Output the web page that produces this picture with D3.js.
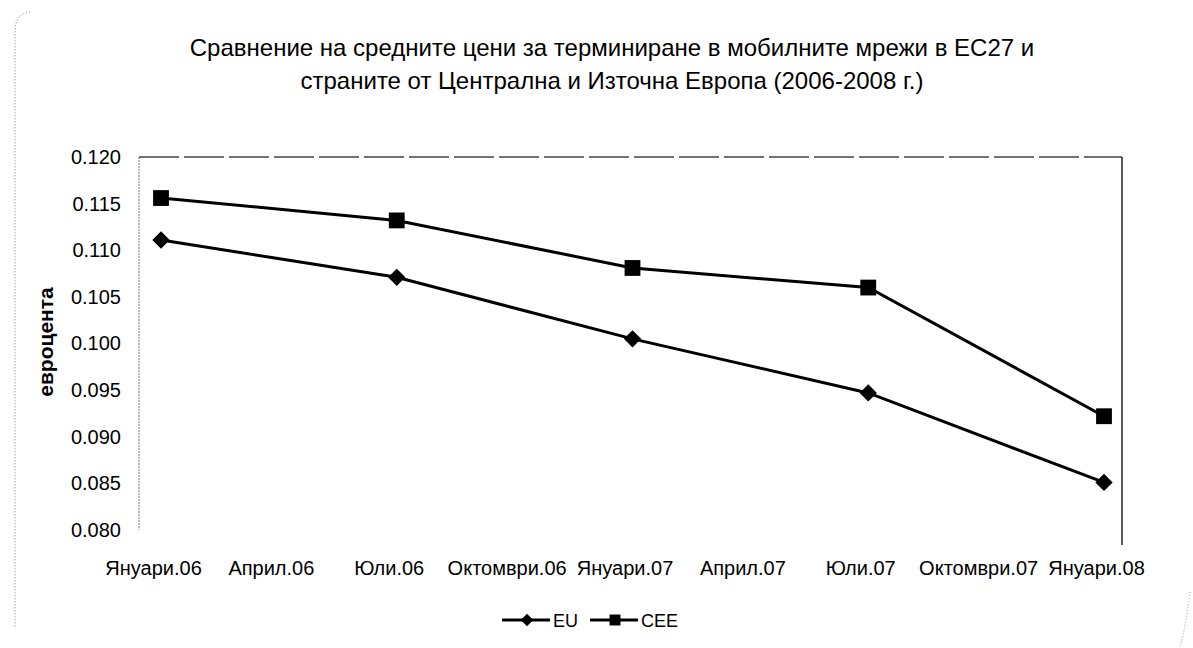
<!DOCTYPE html>
<html>
<head>
<meta charset="utf-8">
<script src="https://cdn.jsdelivr.net/npm/d3@7"></script>
<style>
  html, body { margin: 0; padding: 0; background: #fff; }
  svg { display: block; font-family: "Liberation Sans", Arial, sans-serif; }
</style>
</head>
<body>
<svg id="chart" width="1193" height="648"></svg>
<script>
// ---- data ----
const titleLines = [
  "Сравнение на средните цени за терминиране в мобилните мрежи в  ЕС27 и",
  "страните от Централна и Източна Европа  (2006-2008 г.)"
];
const yAxisTitle = "евроцента";
const tickLabels = ["Януари.06", "Април.06", "Юли.06", "Октомври.06", "Януари.07",
                    "Април.07", "Юли.07", "Октомври.07", "Януари.08"];
const categories = ["Януари.06", "Юли.06", "Януари.07", "Юли.07", "Януари.08"];
const euValues  = [0.1111, 0.1071, 0.1005, 0.0947, 0.0851];
const ceeValues = [0.1156, 0.1132, 0.1081, 0.1060, 0.0922];
const yTicks = [0.080, 0.085, 0.090, 0.095, 0.100, 0.105, 0.110, 0.115, 0.120];
const seriesNames = ["EU", "CEE"];

// ---- layout ----
const svg = d3.select("#chart");
const pLeft = 139, pRight = 1122, pTop = 157, pBottom = 530;

const x = d3.scalePoint().domain(tickLabels).range([161, 1104]);
const y = d3.scaleLinear().domain([0.080, 0.120]).range([pBottom, pTop]);

// outer chart border (faint, dotted)
svg.append("path")
  .attr("d", `M30,12 Q15,14 15,32 L15,628`)
  .attr("fill", "none").attr("stroke", "#777").attr("stroke-width", 1)
  .attr("stroke-dasharray", "1,2");
svg.append("path")
  .attr("d", `M1190,592 Q1186,625 1180,648`)
  .attr("fill", "none").attr("stroke", "#999").attr("stroke-width", 1)
  .attr("stroke-dasharray", "1,2");

// title
svg.append("g").selectAll("text").data(titleLines).join("text")
  .attr("x", 612).attr("y", (d, i) => 56 + i * 33)
  .attr("text-anchor", "middle")
  .attr("font-size", 24)
  .attr("fill", "#000")
  .text(d => d);

// plot frame: left dotted, top dashed, right solid
svg.append("line").attr("x1", pLeft).attr("x2", pLeft).attr("y1", pTop).attr("y2", pBottom)
  .attr("stroke", "#777").attr("stroke-width", 1).attr("stroke-dasharray", "2,1");
svg.append("line").attr("x1", pLeft).attr("x2", pRight).attr("y1", pTop).attr("y2", pTop)
  .attr("stroke", "#444").attr("stroke-width", 1.5).attr("stroke-dasharray", "40,5");
svg.append("line").attr("x1", pRight).attr("x2", pRight).attr("y1", pTop).attr("y2", pBottom + 15)
  .attr("stroke", "#222").attr("stroke-width", 1.5);

// y axis tick labels
const yAxis = d3.axisLeft(y).tickValues(yTicks).tickFormat(d3.format(".3f")).tickSize(0).tickPadding(0);
const gy = svg.append("g").attr("transform", `translate(121,0)`).call(yAxis);
gy.select(".domain").remove();
gy.selectAll("text").attr("font-size", 20).attr("font-family", "Liberation Sans, Arial, sans-serif")
  .attr("fill", "#000");

// y axis title
svg.append("text")
  .attr("transform", `translate(53,342) rotate(-90)`)
  .attr("text-anchor", "middle")
  .attr("font-size", 21).attr("font-weight", "bold")
  .text(yAxisTitle);

// x axis labels
const xAxis = d3.axisBottom(x).tickSize(0).tickPadding(0);
const gx = svg.append("g").attr("transform", `translate(-8,${pBottom + 31})`).call(xAxis);
gx.select(".domain").remove();
gx.selectAll("text").attr("font-size", 20).attr("font-family", "Liberation Sans, Arial, sans-serif")
  .attr("fill", "#000");

// series (diamond = square symbol rotated 45°)
const line = d3.line().x((d, i) => x(categories[i])).y(d => y(d));
const series = [
  { name: seriesNames[0], values: euValues, symbol: d3.symbolSquare, size: 150, rot: 45 },
  { name: seriesNames[1], values: ceeValues, symbol: d3.symbolSquare, size: 250, rot: 0 }
];
series.forEach(s => {
  svg.append("path").datum(s.values)
    .attr("d", line).attr("fill", "none").attr("stroke", "#000").attr("stroke-width", 3);
  svg.append("g").selectAll("path").data(s.values).join("path")
    .attr("transform", (d, i) => `translate(${x(categories[i])},${y(d)}) rotate(${s.rot})`)
    .attr("d", d3.symbol().type(s.symbol).size(s.size))
    .attr("fill", "#000");
});

// legend
const legend = svg.append("g").attr("transform", "translate(0,620)");
const legendItems = [
  { x0: 502, sym: d3.symbolSquare, size: 80, rot: 45, name: seriesNames[0] },
  { x0: 590, sym: d3.symbolSquare, size: 120, rot: 0, name: seriesNames[1] }
];
legendItems.forEach(it => {
  legend.append("line").attr("x1", it.x0).attr("x2", it.x0 + 48).attr("y1", 0).attr("y2", 0)
    .attr("stroke", "#000").attr("stroke-width", 3);
  legend.append("path").attr("transform", `translate(${it.x0 + 25},0) rotate(${it.rot})`)
    .attr("d", d3.symbol().type(it.sym).size(it.size)).attr("fill", "#000");
  legend.append("text").attr("x", it.x0 + 51).attr("y", 6.5)
    .attr("font-size", 18).text(it.name);
});
</script>
</body>
</html>
